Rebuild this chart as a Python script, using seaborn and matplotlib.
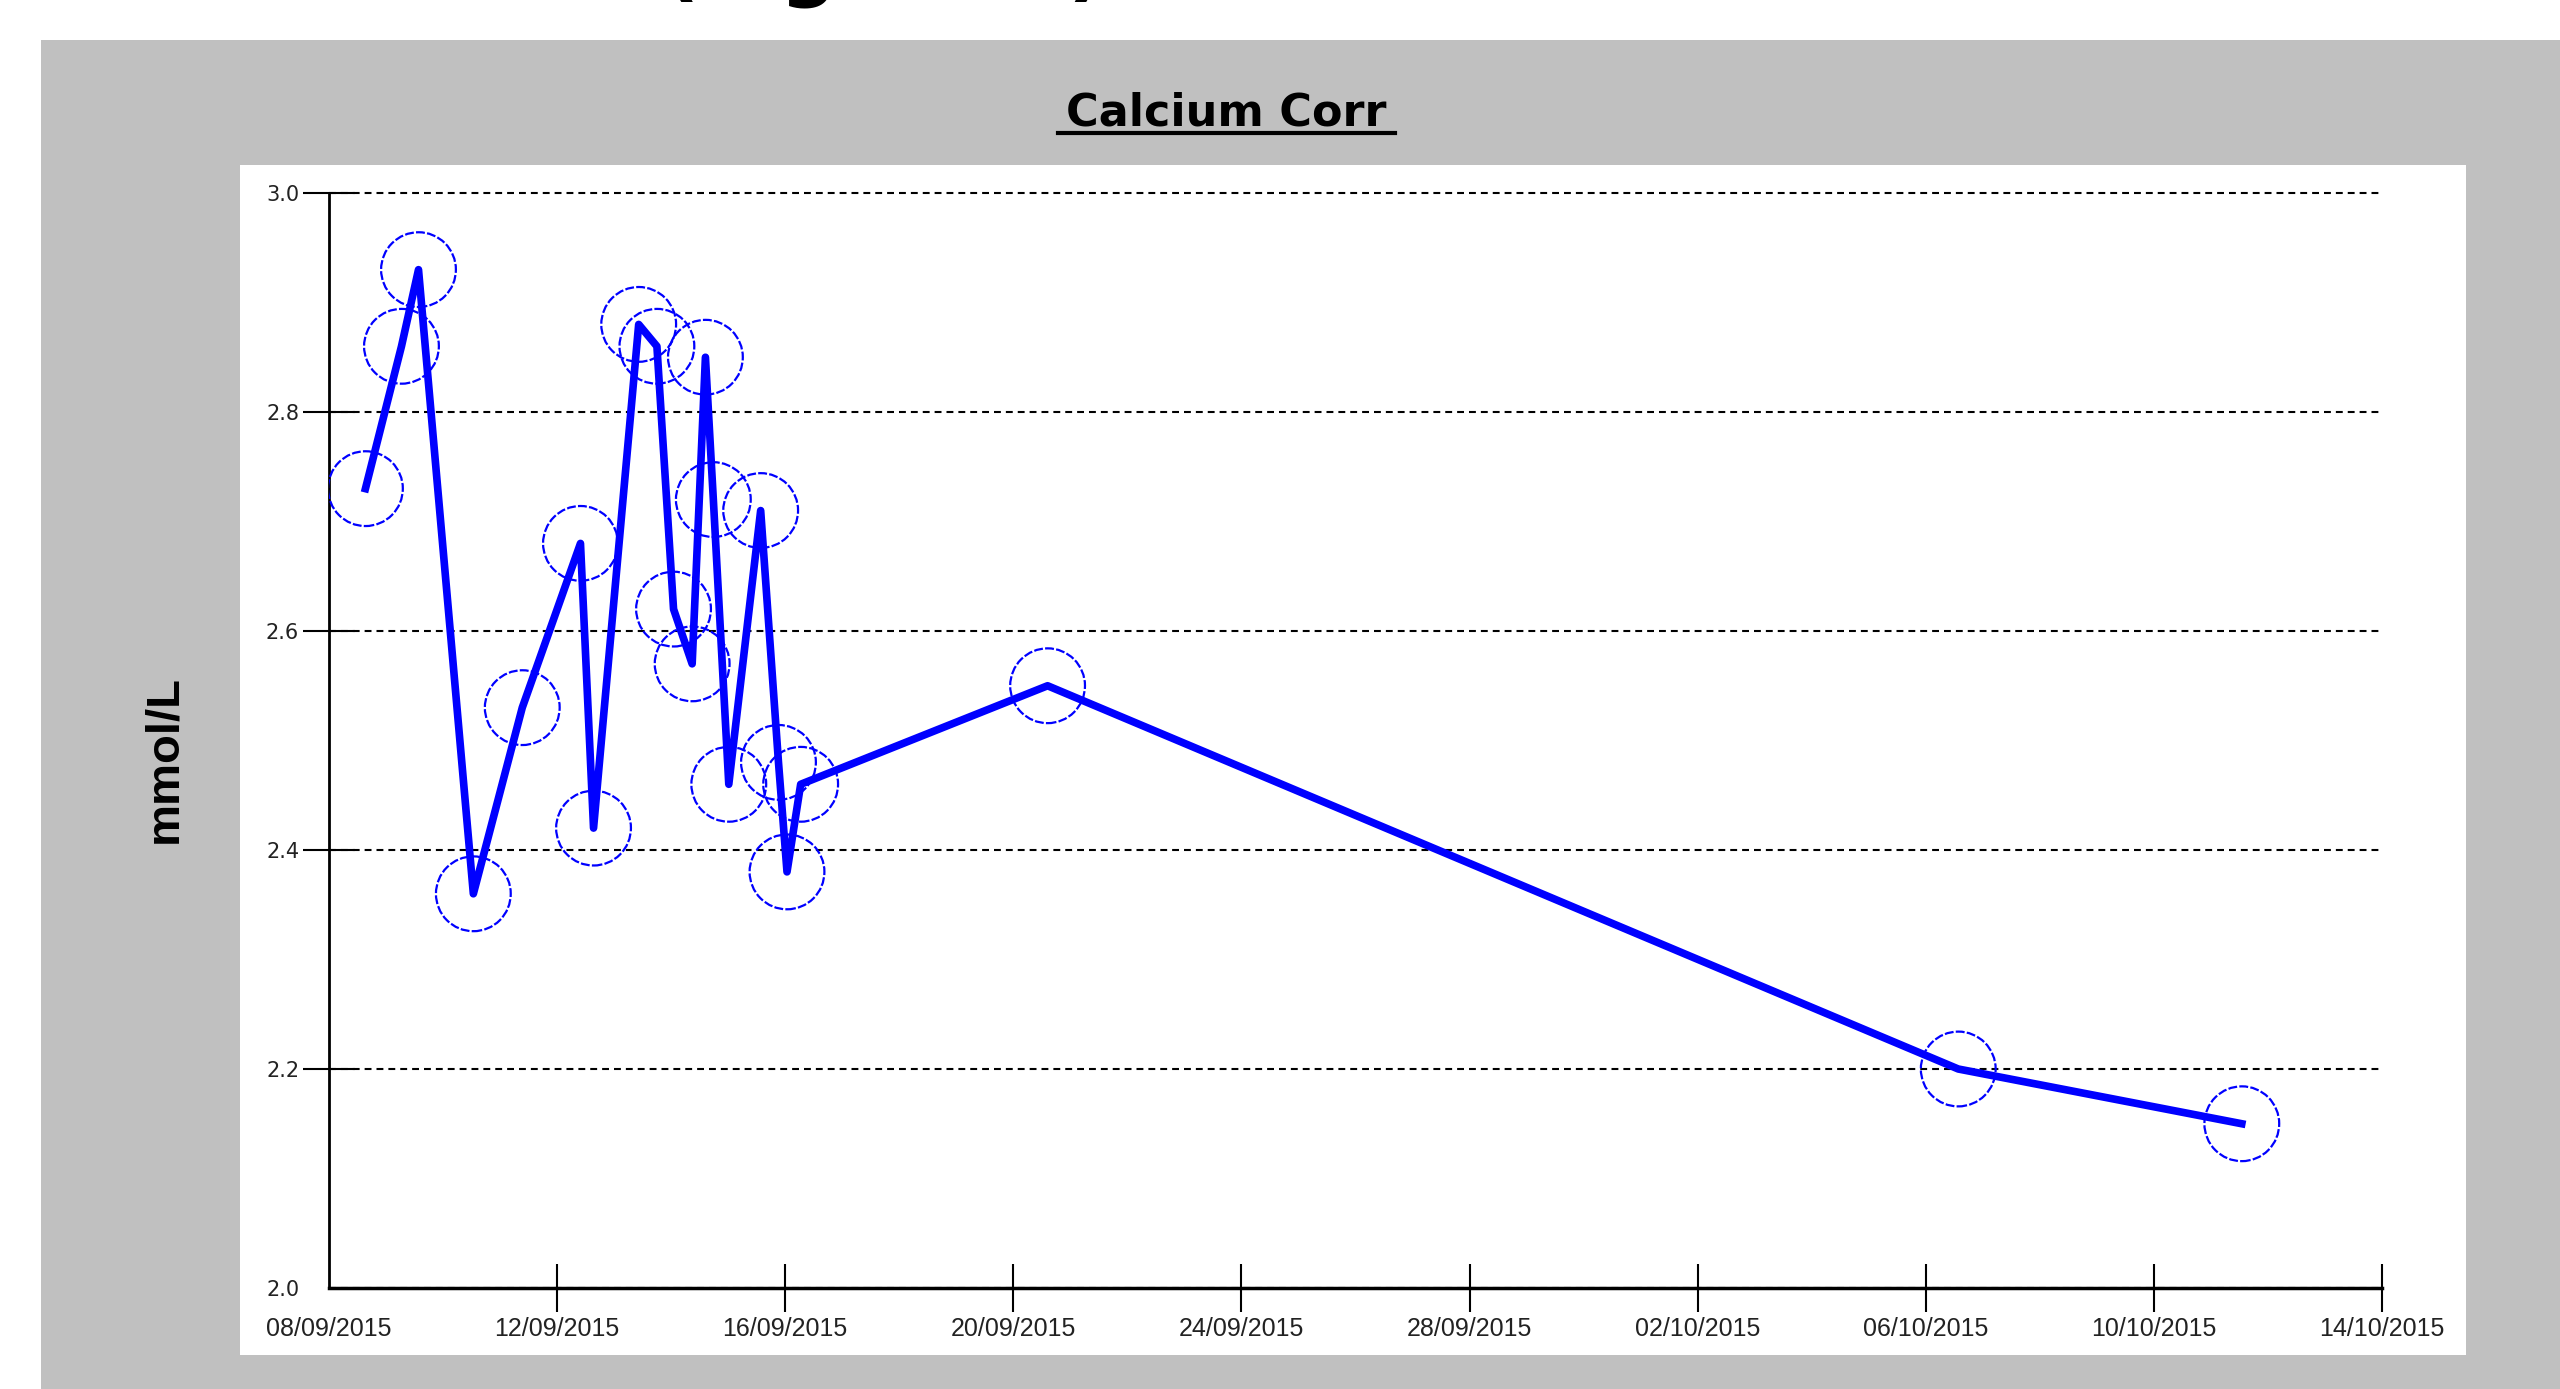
import pandas as pd
import matplotlib
matplotlib.use('Agg')
import matplotlib.pyplot as plt
import matplotlib.dates as mdates
from matplotlib.patches import Rectangle
from matplotlib.lines import Line2D
import seaborn as sns

# Valores (data/hora da coleta e calcio corrigido em mmol/L)
datas = ['2015-09-08 15:20', '2015-09-09 06:30', '2015-09-09 13:40', '2015-09-10 12:45',
         '2015-09-11 09:20', '2015-09-12 09:50', '2015-09-12 15:20', '2015-09-13 10:20',
         '2015-09-13 18:00', '2015-09-14 01:00', '2015-09-14 08:50', '2015-09-14 14:25',
         '2015-09-14 17:45', '2015-09-15 00:15', '2015-09-15 13:40', '2015-09-15 21:10',
         '2015-09-16 00:45', '2015-09-16 06:30', '2015-09-20 14:25', '2015-10-06 13:40',
         '2015-10-11 13:00']
calcio = [2.73, 2.86, 2.93, 2.36, 2.53, 2.68, 2.42, 2.88, 2.86, 2.62, 2.57, 2.85,
          2.72, 2.46, 2.71, 2.48, 2.38, 2.46, 2.55, 2.20, 2.15]

y_ticks = [2.0, 2.2, 2.4, 2.6, 2.8, 3.0]
y_labels = ['2.0', '2.2', '2.4', '2.6', '2.8', '3.0']
x_ticks = pd.date_range('2015-09-08', '2015-10-14', freq='4D')

df = pd.DataFrame({'Data': pd.to_datetime(datas), 'Calcio': calcio})

azul = '#0000FF'

fig = plt.figure(figsize=(25.6, 13.89), dpi=100)
fig.patch.set_facecolor('white')

# fundo cinza e painel branco
fig.add_artist(Rectangle((41 / 2560, 0), 1 - 41 / 2560, 1 - 40 / 1389,
                         transform=fig.transFigure, facecolor='#c0c0c0', edgecolor='none', zorder=0))
fig.add_artist(Rectangle((240 / 2560, 1 - 1355 / 1389), (2466 - 240) / 2560, (1355 - 165) / 1389,
                         transform=fig.transFigure, facecolor='white', edgecolor='none', zorder=0))

# texto cortado no topo da pagina (so aparecem as partes de baixo)
fig.text(663 / 2560, 1 + 9 / 1389, '(Figure 1)', fontsize=57, fontweight='bold', family='DejaVu Sans',
         ha='left', va='baseline', color='black')

ax = fig.add_axes([329 / 2560, 1 - 1288 / 1389, 2053 / 2560, 1095 / 1389])
ax.set_facecolor('none')

sns.lineplot(data=df, x='Data', y='Calcio', ax=ax, color=azul, linewidth=5.5, sort=False, zorder=3)
sns.scatterplot(data=df, x='Data', y='Calcio', ax=ax, s=2900, marker='o', color='none',
                edgecolor=azul, linewidth=1.6, linestyle=(0, (4, 1.0)), zorder=4)

ax.set_xlim(pd.Timestamp('2015-09-08'), pd.Timestamp('2015-10-14'))
ax.set_ylim(2.0, 3.0)

ax.set_yticks(y_ticks)
ax.set_yticklabels(y_labels, fontsize=15, family='DejaVu Sans', color='#222222')
ax.set_xticks(x_ticks)
ax.xaxis.set_major_formatter(mdates.DateFormatter('%d/%m/%Y'))
for lab in ax.get_xticklabels():
    lab.set_fontsize(18)
    lab.set_family('Liberation Sans')
    lab.set_color('#222222')

ax.tick_params(axis='y', direction='inout', length=37, width=1.5, pad=3)
ax.tick_params(axis='x', direction='inout', length=34, width=1.5, pad=4)
ax.yaxis.get_major_ticks()[0].tick1line.set_visible(False)
ax.xaxis.get_major_ticks()[0].tick1line.set_visible(False)

ax.grid(axis='y', color='black', linestyle=(0, (3.3, 2.4)), linewidth=1.5)
ax.grid(axis='x', visible=False)
for gl in ax.get_ygridlines():
    gl.set_clip_on(False)

for s in ['top', 'right']:
    ax.spines[s].set_visible(False)
ax.spines['left'].set_linewidth(2)
ax.spines['bottom'].set_linewidth(2.5)
ax.spines['left'].set_color('black')
ax.spines['bottom'].set_color('black')

ax.set_xlabel('')
ax.set_ylabel('')

# titulo sublinhado
fig.text(1226 / 2560, 1 - 125 / 1389, 'Calcium Corr', fontsize=32, fontweight='bold',
         family='DejaVu Sans', ha='center', va='baseline')
fig.add_artist(Line2D([1058 / 2560, 1395 / 2560], [1 - 133 / 1389, 1 - 133 / 1389],
                      transform=fig.transFigure, color='black', linewidth=3))

fig.text(164 / 2560, 1 - 759 / 1389, 'mmol/L', fontsize=34, fontweight='bold',
         family='Liberation Sans', rotation=90, ha='center', va='center')

fig.savefig('out.png', dpi=100)
